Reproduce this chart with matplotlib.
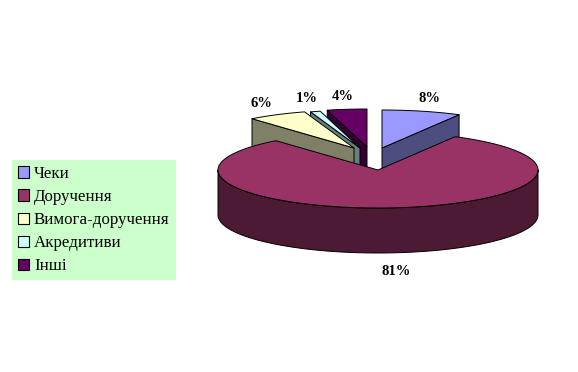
import numpy as np
import matplotlib.pyplot as plt
from matplotlib.patches import Polygon, Patch

# data
labels = ["Чеки", "Доручення", "Вимога-доручення", "Акредитиви", "Інші"]
shares = [8, 81, 6, 1, 4]

# style
top_colors = ["#9999FF", "#993366", "#FFFFCC", "#CCFFFF", "#660066"]
side_colors = ["#4D4D80", "#4D1A33", "#808066", "#668080", "#330033"]
shift = [(4, -22), (0, 0), (-24, -22), (-18, -22), (-11, -23)]
draw_order = [4, 3, 2, 0, 1]

cx, cy = 378, 170
rx, ry, depth = 160, 38, 45

plt.rcParams['font.family'] = ['Liberation Serif', 'DejaVu Serif']

fig = plt.figure(figsize=(5.78, 3.72), dpi=100)
ax = fig.add_axes([0, 0, 1, 1])
ax.set_xlim(0, 578)
ax.set_ylim(372, 0)
ax.axis('off')


def rim(x0, y0, a0, a1, dz=0):
    t = np.radians(np.linspace(a0, a1, max(int(abs(a1 - a0)), 2)))
    return np.column_stack([x0 + rx * np.sin(t), y0 - ry * np.cos(t) + dz])


def pt(x0, y0, a, dz=0):
    t = np.radians(a)
    return [x0 + rx * np.sin(t), y0 - ry * np.cos(t) + dz]


total = sum(shares)
ends = np.cumsum(shares) / total * 360
starts = ends - np.array(shares) / total * 360

for i in draw_order:
    a0, a1 = starts[i], ends[i]
    x0, y0 = cx + shift[i][0], cy + shift[i][1]
    kw = dict(edgecolor='black', linewidth=0.7, joinstyle='round')
    # radial faces
    if np.sin(np.radians(a0)) < -1e-9:
        q = [[x0, y0], pt(x0, y0, a0), pt(x0, y0, a0, depth), [x0, y0 + depth]]
        ax.add_patch(Polygon(q, facecolor=side_colors[i], **kw))
    if np.sin(np.radians(a1)) > 1e-9:
        q = [[x0, y0], pt(x0, y0, a1), pt(x0, y0, a1, depth), [x0, y0 + depth]]
        ax.add_patch(Polygon(q, facecolor=side_colors[i], **kw))
    # outer curved side
    s0, s1 = max(a0, 90), min(a1, 270)
    if s1 > s0:
        side = np.vstack([rim(x0, y0, s0, s1), rim(x0, y0, s1, s0, depth)])
        ax.add_patch(Polygon(side, facecolor=side_colors[i], **kw))
    # top
    top = np.vstack([[x0, y0], rim(x0, y0, a0, a1)])
    ax.add_patch(Polygon(top, facecolor=top_colors[i], **kw))

# percentage labels
for i in range(len(shares)):
    m = np.radians((starts[i] + ends[i]) / 2)
    x0, y0 = cx + shift[i][0], cy + shift[i][1]
    lx = x0 + 1.2 * rx * np.sin(m)
    ly = y0 - 1.35 * ry * np.cos(m) + (depth + 5 if np.cos(m) < 0 else 0)
    ax.text(lx, ly, f"{shares[i]}%", ha='center', va='center',
            fontsize=10.5, fontweight='bold')

handles = [Patch(facecolor=c, edgecolor='black', linewidth=0.8) for c in top_colors]
leg = ax.legend(handles, labels, loc='upper left',
                bbox_to_anchor=(12 / 578, 1 - 160 / 372),
                bbox_transform=fig.transFigure, borderaxespad=0,
                fontsize=12.2, frameon=True, fancybox=False,
                facecolor='#CCFFCC', edgecolor='none', framealpha=1,
                handlelength=0.65, handleheight=0.65, handletextpad=0.3,
                labelspacing=0.42, borderpad=0.35)

fig.savefig('out.png', dpi=100)
